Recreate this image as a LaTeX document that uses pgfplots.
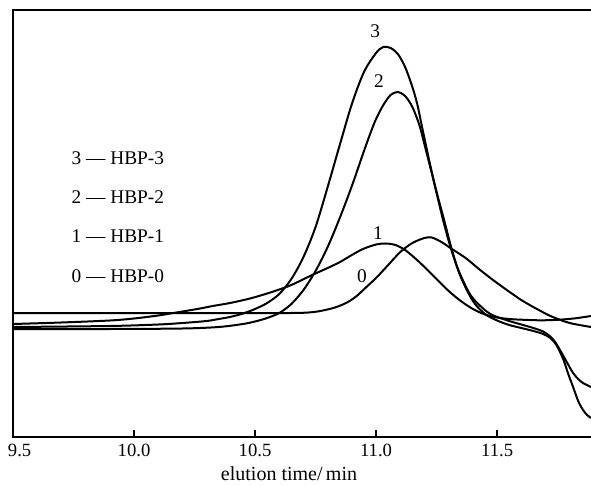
\documentclass[border=0pt]{standalone}
\usepackage{fontspec}
\setmainfont{Liberation Serif}
\usepackage{pgfplots}
\pgfplotsset{compat=1.18}
\begin{document}
\begin{tikzpicture}
\begin{axis}[
  name=ax,
  scale only axis,
  width=433.5pt, height=320.25pt,
  xmin=9.5, xmax=11.888,
  ymin=0, ymax=427,
  xtick={9.5,10.0,10.5,11.0,11.5},
  xticklabels={\makebox[0pt][l]{\hspace*{-3.75pt}9.5},10.0,10.5,11.0,11.5},
  ytick=\empty,
  xtick pos=bottom,
  tick align=inside,
  major tick length=5pt,
  tick style={line width=0.9pt, black},
  axis line style={draw=none},
  /pgf/number format/assume math mode=true,
  ticklabel style={font=\fontsize{14}{16}\selectfont},
  xticklabel style={yshift=-1.5pt},
  xlabel={elution time/\,min},
  xlabel style={font=\fontsize{15}{17}\selectfont, at={(axis description cs:0.4775,0)}, anchor=base, yshift=-32.5pt},
  clip=false,
]
\draw[line width=0.9pt] (rel axis cs:1,1) -- (rel axis cs:0,1) -- (rel axis cs:0,0) -- (rel axis cs:1,0);

% curve 0 (HBP-0)
\addplot[black, line width=1.5pt, smooth, tension=0.5] coordinates {
(9.5,124) (10.0,124) (10.4,124) (10.65,124) (10.72,124.5) (10.77,126) (10.83,129.5)
(10.88,134.5) (10.92,141) (10.96,150) (11.0,159) (11.05,172) (11.1,185) (11.15,194)
(11.2,199) (11.23,199.5) (11.27,195) (11.31,188.5) (11.37,179) (11.43,167)
(11.5,154) (11.6,137) (11.68,126) (11.73,120) (11.8,114) (11.888,110)
};
% curve 1 (HBP-1)
\addplot[black, line width=1.5pt, smooth, tension=0.5] coordinates {
(9.5,113) (9.7,114.5) (9.9,116.5) (10.0,118.5) (10.1,121.5) (10.15,123.5) (10.2,125.5)
(10.273,128.5) (10.33,131.2) (10.397,134) (10.479,138.5) (10.55,143.5) (10.6,147.5)
(10.65,152) (10.736,162) (10.8,169) (10.851,175) (10.9,182) (10.946,188) (11.0,192.5)
(11.04,193.5) (11.08,192) (11.12,187) (11.16,179) (11.2,170) (11.25,158) (11.3,146)
(11.35,136) (11.4,128) (11.45,122.5) (11.5,119.5) (11.55,118) (11.6,117.3) (11.68,116.7)
(11.75,117.2) (11.82,118.6) (11.888,121)
};
% curve 3 (HBP-3)
\addplot[black, line width=1.5pt, smooth, tension=0.5] coordinates {
(9.5,110) (9.9,111) (10.1,112.5) (10.2,114) (10.3,116) (10.35,118) (10.4,120.2)
(10.45,123.5) (10.5,128) (10.55,134) (10.6,143) (10.65,158) (10.7,180) (10.75,210)
(10.8,250) (10.85,292) (10.9,333) (10.95,365) (11.0,384) (11.03,390) (11.06,389)
(11.09,383) (11.12,370) (11.15,350) (11.17,333) (11.19,310) (11.22,276) (11.25,244)
(11.28,214) (11.31,188) (11.35,160) (11.4,136) (11.45,123) (11.5,116.5) (11.55,112)
(11.6,109) (11.65,106) (11.69,103) (11.72,99) (11.745,92) (11.773,78) (11.794,63)
(11.814,50) (11.835,36) (11.855,27) (11.872,22) (11.888,19)
};
% curve 2 (HBP-2)
\addplot[black, line width=1.5pt, smooth, tension=0.5] coordinates {
(9.5,108) (9.9,108) (10.2,108.5) (10.35,110) (10.45,113) (10.5,115.5) (10.55,119)
(10.6,124) (10.65,133) (10.7,147) (10.75,166) (10.8,190) (10.85,219) (10.9,251)
(10.95,286) (10.98,306) (11.0,318) (11.03,332) (11.06,342) (11.09,345) (11.12,341)
(11.15,330) (11.18,311) (11.21,283) (11.25,245) (11.28,218) (11.31,190) (11.34,167)
(11.39,142) (11.44,129) (11.48,122) (11.55,116) (11.6,112.5) (11.65,109) (11.69,105.5)
(11.72,100.5) (11.74,95) (11.76,87) (11.79,74) (11.814,64) (11.835,58) (11.855,54)
(11.888,50)
};

\node[anchor=base west, font=\fontsize{14.5}{16}\selectfont] at (axis cs:9.723,272) {3 — HBP-3};
\node[anchor=base west, font=\fontsize{14.5}{16}\selectfont] at (axis cs:9.723,233) {2 — HBP-2};
\node[anchor=base west, font=\fontsize{14.5}{16}\selectfont] at (axis cs:9.723,194) {1 — HBP-1};
\node[anchor=base west, font=\fontsize{14.5}{16}\selectfont] at (axis cs:9.723,155) {0 — HBP-0};

\node[anchor=base, font=\fontsize{14.5}{16}\selectfont] at (axis cs:10.996,399) {3};
\node[anchor=base, font=\fontsize{14.5}{16}\selectfont] at (axis cs:11.012,349) {2};
\node[anchor=base, font=\fontsize{14.5}{16}\selectfont] at (axis cs:11.008,197) {1};
\node[anchor=base, font=\fontsize{14.5}{16}\selectfont] at (axis cs:10.942,155) {0};
\end{axis}
\path (ax.south west) ++(-9.75pt,-36pt) coordinate (bl);
\path (ax.north east) ++(0pt,7.5pt) coordinate (tr);
\pgfresetboundingbox
\path (bl) rectangle (tr);
\end{tikzpicture}
\end{document}
